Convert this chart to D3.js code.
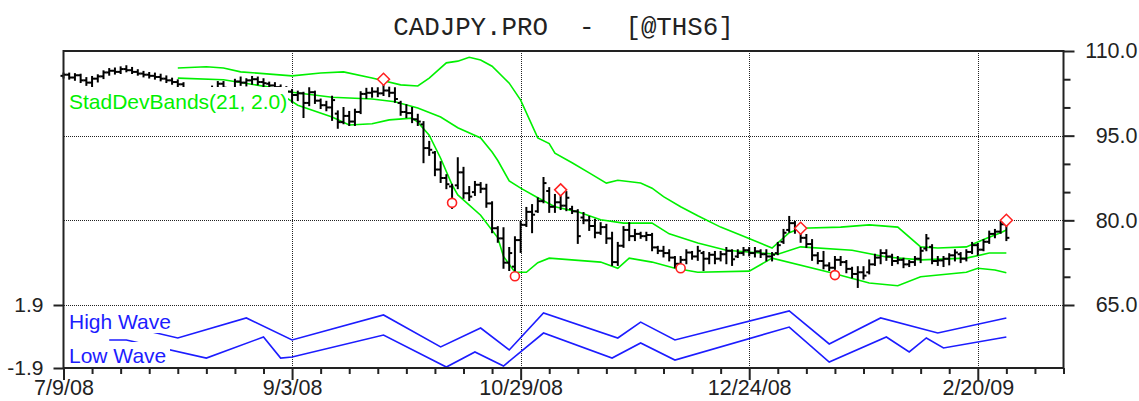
<!DOCTYPE html>
<html>
<head>
<meta charset="utf-8">
<script src="https://cdn.jsdelivr.net/npm/d3@7"></script>
<style>
  body { margin: 0; background: #fff; }
  svg { display: block; }
</style>
</head>
<body>
<svg id="chart"></svg>
<script>
// daily bars, index 0 = 7/9/08
const barOpen = [105.6,105.8,105.3,105.7,104.8,104.4,105.1,105.5,106.2,106.5,106.3,106.8,106.6,106.3,106.0,105.8,105.6,105.4,105.1,104.8,
  104.5,104.1,103.2,102.9,102.7,102.8,103.1,103.4,104.2,103.3,103.2,104.6,104.4,104.8,105.0,104.5,104.2,103.9,103.6,103.3,
  102.8,102.2,102.5,100.8,102.7,101.2,100.4,100.0,98.9,97.4,98.5,97.5,99.2,102.4,102.6,102.8,102.5,103.0,102.6,100.8,
  99.2,99.0,97.9,97.0,92.8,92.0,89.0,87.5,86.0,86.2,88.5,84.8,85.0,86.3,85.6,83.0,78.6,76.8,72.5,71.8,
  76.5,79.2,81.5,81.6,83.4,85.2,82.4,83.2,82.6,82.0,81.6,80.5,80.0,79.0,77.8,78.8,76.8,72.6,75.5,78.3,
  77.2,77.6,77.2,77.4,75.2,74.6,74.2,73.4,72.3,73.0,74.3,73.6,74.2,73.2,73.9,73.2,74.0,74.6,73.6,74.2,
  74.7,74.2,74.5,74.0,73.6,74.2,76.2,78.3,79.5,78.3,76.9,75.8,73.8,72.8,72.0,71.6,73.0,72.6,71.4,70.5,
  70.8,70.8,72.2,73.4,74.2,73.6,72.8,73.0,72.2,72.6,73.2,75.0,75.3,72.8,72.9,73.2,73.8,74.0,73.2,74.4,
  75.6,74.8,76.2,77.6,78.0,79.3];
const barHigh = [106.0,106.0,105.9,105.8,105.2,105.4,105.7,106.4,106.8,106.9,107.1,107.3,107.0,106.6,106.3,106.1,106.0,105.8,105.5,105.1,
  104.8,104.3,103.4,103.3,103.1,103.3,103.7,104.5,104.5,103.4,104.9,105.3,105.0,105.4,105.3,105.0,104.4,104.3,103.9,103.6,
  103.1,102.8,102.6,103.4,102.8,101.4,101.0,101.9,99.3,99.9,99.2,99.6,102.7,103.3,103.4,103.4,104.1,103.5,103.4,101.0,
  100.4,99.9,98.7,97.4,93.9,92.1,90.3,88.0,86.3,91.0,89.3,85.9,86.8,86.6,86.3,83.2,78.8,78.6,75.1,77.0,
  79.7,82.2,82.7,83.9,87.5,85.7,84.5,84.3,85.0,82.4,81.8,81.3,80.6,80.1,79.5,79.2,77.8,76.0,78.8,79.5,
  78.3,77.8,77.8,77.6,75.3,75.3,74.7,73.5,73.5,74.7,74.4,75.3,74.4,74.2,74.4,74.4,75.1,74.7,74.7,75.1,
  75.1,75.1,74.7,74.7,74.2,76.0,78.3,80.6,79.7,78.5,77.4,76.5,74.2,74.4,72.4,73.5,73.5,72.8,71.6,71.7,
  71.7,72.9,73.9,74.7,74.7,73.9,73.5,73.2,72.8,73.5,75.1,77.4,75.6,73.5,73.5,74.0,74.7,74.2,74.7,76.0,
  75.8,76.5,78.0,78.3,79.7,79.5];
const barLow = [105.3,105.1,104.9,104.5,104.0,103.8,104.6,105.2,105.8,106.0,106.1,106.4,106.1,105.8,105.5,105.3,105.1,104.8,104.5,104.2,
  103.8,103.2,102.5,102.3,102.2,102.4,102.7,103.0,103.2,102.6,102.9,104.0,103.9,104.2,104.1,103.8,103.5,103.2,102.9,102.4,
  101.0,101.3,98.3,100.4,100.8,99.9,99.5,97.8,96.4,97.2,96.9,96.9,99.0,101.7,101.9,102.0,102.2,102.0,101.0,98.7,
  98.3,97.4,96.9,90.3,91.6,88.0,86.8,85.7,82.2,85.7,84.0,83.6,84.5,85.0,82.4,77.9,76.2,71.6,71.2,70.8,
  74.4,79.0,77.9,81.5,83.2,81.5,81.5,82.0,81.8,81.3,76.0,79.5,78.3,77.0,77.6,76.0,72.1,72.1,75.3,76.5,
  76.5,76.9,76.5,74.7,74.2,73.6,72.9,71.7,71.4,72.4,73.2,73.0,71.2,72.4,72.4,72.9,72.4,72.1,73.5,73.9,
  73.8,73.6,73.5,72.9,72.9,74.0,76.0,78.0,77.8,76.2,75.3,73.0,72.4,71.5,71.2,71.4,72.1,70.8,69.9,68.2,
  69.7,70.6,72.1,72.4,73.0,72.1,72.4,71.7,71.9,72.1,72.6,74.7,72.4,72.1,71.9,72.2,72.9,72.6,72.9,74.2,
  73.9,74.7,76.0,77.0,77.8,76.5];
const barClose = [105.8,105.3,105.7,104.8,104.4,105.1,105.5,106.2,106.5,106.3,106.8,106.6,106.3,106.0,105.8,105.6,105.4,105.1,104.8,104.5,
  104.1,103.4,102.9,102.7,102.8,103.1,103.4,104.2,103.5,103.2,104.6,104.4,104.8,105.0,104.5,104.3,103.9,103.6,103.3,102.8,
  102.2,102.5,100.8,102.7,101.2,100.4,100.0,101.3,97.4,98.5,97.5,99.2,102.4,102.6,102.8,102.5,103.0,102.6,101.5,99.2,
  99.0,97.9,97.5,92.8,92.5,89.0,87.5,86.4,83.5,88.5,84.8,84.2,86.3,85.6,83.0,78.6,76.8,72.5,74.2,76.5,
  79.2,81.5,81.0,83.4,86.6,82.4,83.2,82.6,84.0,81.6,77.2,80.0,79.0,77.8,78.8,76.8,72.6,75.5,78.3,77.2,
  77.6,77.2,77.4,75.2,74.6,74.2,73.4,72.3,73.0,74.3,73.6,74.6,73.2,73.9,73.2,74.0,74.6,73.1,74.2,74.7,
  74.2,74.5,74.0,73.6,73.9,75.6,77.8,79.5,78.4,76.9,75.8,73.8,72.8,72.0,71.6,73.0,72.6,71.4,70.5,70.8,
  70.2,72.2,73.4,74.2,73.6,72.8,73.0,72.2,72.6,73.2,74.6,76.8,72.8,72.9,73.2,73.8,74.3,73.2,74.4,75.6,
  74.8,76.2,77.6,78.0,79.3,76.9];

// StadDevBands(21, 2.0): [bar, value]
const upperBand = [[20,107.0],[25,107.2],[28,107.0],[31,106.3],[40,105.6],[45,106.1],[49,106.3],[54,105.2],[59,104.0],[62,103.8],
  [64,105.2],[67,107.9],[69,108.2],[71,108.9],[73,108.4],[75,107.3],[78,104.3],[80,101.3],[83,94.6],[85,93.6],[86,91.9],
  [89,90.2],[92,88.4],[95,86.6],[97,87.1],[101,86.6],[103,85.7],[105,84.2],[108,82.4],[111,80.8],[115,78.8],[119,77.2],
  [124,75.1],[127,77.8],[129,78.6],[136,78.8],[141,79.2],[146,78.8],[150,75.3],[153,75.1],[158,75.3],[161,76.6],[164,77.8],[165,78.3]];
const middleBand = [[20,105.2],[28,104.9],[36,103.6],[40,102.7],[47,101.8],[54,101.5],[58,101.0],[62,99.9],[66,98.3],[69,96.4],
  [73,94.6],[75,92.1],[76,90.6],[78,87.0],[80,85.7],[83,84.0],[86,82.4],[90,81.5],[94,80.1],[98,79.5],[103,79.5],[106,77.6],
  [111,76.0],[116,74.7],[122,74.2],[125,74.0],[129,75.3],[138,74.7],[144,73.5],[150,73.0],[158,73.3],[162,74.2],[165,74.2]];
const lowerBand = [[20,103.4],[30,102.9],[39,101.7],[41,100.4],[47,98.3],[50,96.9],[54,97.1],[57,97.8],[61,98.1],[62,97.4],
  [64,95.1],[66,91.0],[68,86.3],[69,84.5],[73,80.9],[76,76.9],[77,73.6],[79,70.8],[81,70.8],[83,72.5],[85,73.3],[94,72.6],
  [97,71.5],[99,73.3],[103,72.6],[107,71.5],[111,70.8],[120,71.0],[124,73.3],[134,70.8],[141,68.9],[146,68.4],[150,70.0],
  [158,70.8],[160,71.5],[163,71.2],[165,70.7]];

// wave panel: [bar, value]
const highWave = [[11,0.63],[20,-0.09],[32,1.12],[40,-0.21],[56,1.30],[66,-0.63],[73,0.51],[78,-0.81],[84,1.42],[97,-0.09],
  [101,0.87],[107,-0.21],[127,1.54],[134,-0.45],[143,1.12],[153,0.21],[165,1.12]];
const lowWave = [[8,-0.21],[11,-0.21],[25,-1.30],[35,-0.03],[38,-1.30],[40,-1.24],[56,0.09],[67,-1.84],[72,-0.93],[77,-1.78],
  [84,0.21],[96,-1.30],[101,-0.39],[107,-1.42],[127,0.57],[134,-1.54],[144,-0.03],[148,-0.93],[151,-0.09],[154,-0.69],[165,-0.03]];

const peakBars = [56, 87, 129, 165];
const peakVals = [105.0, 85.4, 78.6, 80.0];
const troughBars = [68, 79, 108, 135];
const troughVals = [83.1, 70.1, 71.5, 70.3];

const tickBars = [0, 40, 80, 120, 160];
const tickLabels = ["7/9/08", "9/3/08", "10/29/08", "12/24/08", "2/20/09"];
const priceTicks = [65, 70, 75, 80, 85, 90, 95, 100, 105, 110];
const priceLabels = [65, 80, 95, 110];
const waveTicks = [-1.9, 1.9];

const W = 1139, H = 401;
const plot = {left: 63.5, right: 1063.5, top: 51, split: 305, bottom: 368};
const sans = "'Liberation Sans', Arial, sans-serif";

const svg = d3.select("#chart").attr("width", W).attr("height", H);
svg.append("rect").attr("width", W).attr("height", H).attr("fill", "#fff");

const x = d3.scaleLinear().domain([0, 175]).range([plot.left, plot.right]);
const y = d3.scaleLinear().domain([65, 110]).range([plot.split, plot.top]);
const yWave = d3.scaleLinear().domain([-1.9, 1.9]).range([plot.bottom, plot.split]);

// dotted grid
const grid = svg.append("g")
  .attr("stroke", "#222").attr("stroke-width", 1)
  .attr("stroke-dasharray", "1,1").attr("shape-rendering", "crispEdges");
grid.selectAll("line.gh").data([95, 80, 65]).join("line").attr("class", "gh")
  .attr("x1", plot.left).attr("x2", plot.right)
  .attr("y1", d => Math.round(y(d)) + 0.5).attr("y2", d => Math.round(y(d)) + 0.5);
grid.selectAll("line.gv").data(tickBars.slice(1)).join("line").attr("class", "gv")
  .attr("x1", d => Math.round(x(d)) + 0.5).attr("x2", d => Math.round(x(d)) + 0.5)
  .attr("y1", plot.top).attr("y2", plot.bottom);

// bands
const bandLine = d3.line().x(d => x(d[0])).y(d => y(d[1]));
svg.append("g").selectAll("path").data([upperBand, middleBand, lowerBand]).join("path")
  .attr("d", bandLine).attr("fill", "none").attr("stroke", "#00f000").attr("stroke-width", 1.6);

// waves
const waveLine = d3.line().x(d => x(d[0])).y(d => yWave(d[1]));
svg.append("g").selectAll("path").data([highWave, lowWave]).join("path")
  .attr("d", waveLine).attr("fill", "none").attr("stroke", "#1c1cff").attr("stroke-width", 1.6);

// OHLC bars
const bars = barClose.map((c, i) => ({i, o: barOpen[i], h: barHigh[i], l: barLow[i], c}));
const ohlc = svg.append("g").attr("stroke", "#000").attr("stroke-width", 2);
const bar = ohlc.selectAll("g").data(bars).join("g");
bar.append("line")
  .attr("x1", d => x(d.i)).attr("x2", d => x(d.i))
  .attr("y1", d => y(d.h) - 1).attr("y2", d => y(d.l) + 1);
bar.append("line")
  .attr("x1", d => x(d.i) - 3).attr("x2", d => x(d.i))
  .attr("y1", d => y(d.o)).attr("y2", d => y(d.o));
bar.append("line")
  .attr("x1", d => x(d.i)).attr("x2", d => x(d.i) + 3)
  .attr("y1", d => y(d.c)).attr("y2", d => y(d.c));

// swing markers
svg.append("g").selectAll("path").data(peakBars).join("path")
  .attr("d", (d, k) => {
    const cx = x(d), cy = y(peakVals[k]);
    return `M${cx},${cy - 6}L${cx + 6},${cy}L${cx},${cy + 6}L${cx - 6},${cy}Z`;
  })
  .attr("fill", "#fff").attr("stroke", "#ff2020").attr("stroke-width", 1.5);
svg.append("g").selectAll("circle").data(troughBars).join("circle")
  .attr("cx", d => x(d)).attr("cy", (d, k) => y(troughVals[k])).attr("r", 4.5)
  .attr("fill", "#fff").attr("stroke", "#ff2020").attr("stroke-width", 1.6);

// study labels (opaque boxes like the original)
const labels = [
  {text: "StadDevBands(21, 2.0)", color: "#00f000", box: [65, 87, 223, 26], base: 109},
  {text: "High Wave", color: "#1c1cff", box: [65, 311, 108, 22], base: 329},
  {text: "Low Wave", color: "#1c1cff", box: [65, 342, 105, 24], base: 363}
];
const lab = svg.append("g").selectAll("g").data(labels).join("g");
lab.append("rect")
  .attr("x", d => d.box[0]).attr("y", d => d.box[1])
  .attr("width", d => d.box[2]).attr("height", d => d.box[3]).attr("fill", "#fff");
lab.append("text")
  .attr("x", 69).attr("y", d => d.base)
  .attr("fill", d => d.color).attr("font-family", sans).attr("font-size", 21)
  .text(d => d.text);

// frame
svg.append("rect")
  .attr("x", plot.left).attr("y", plot.top)
  .attr("width", plot.right - plot.left).attr("height", plot.bottom - plot.top)
  .attr("fill", "none").attr("stroke", "#222").attr("stroke-width", 2);

// right price axis
const rAxis = svg.append("g").attr("transform", `translate(${plot.right},0)`)
  .call(d3.axisRight(y).tickValues(priceTicks).tickSizeOuter(0)
    .tickFormat(d => priceLabels.includes(d) ? d.toFixed(1) : ""));
rAxis.select(".domain").remove();
rAxis.selectAll(".tick line")
  .attr("x2", d => priceLabels.includes(d) ? 11 : 7)
  .attr("stroke", "#222").attr("stroke-width", 2);
rAxis.selectAll(".tick text")
  .attr("x", 74).attr("text-anchor", "end")
  .attr("font-family", sans).attr("font-size", 21.5).attr("fill", "#222");

// left wave axis
const lAxis = svg.append("g").attr("transform", `translate(${plot.left},0)`)
  .call(d3.axisLeft(yWave).tickValues(waveTicks).tickSizeOuter(0).tickSize(10).tickPadding(10)
    .tickFormat(d => d.toFixed(1)));
lAxis.select(".domain").remove();
lAxis.selectAll(".tick line").attr("stroke", "#222").attr("stroke-width", 2);
lAxis.selectAll(".tick text")
  .attr("font-family", sans).attr("font-size", 21).attr("fill", "#222");

// bottom date axis
const bAxis = svg.append("g").attr("transform", `translate(0,${plot.bottom})`)
  .call(d3.axisBottom(x).tickValues(d3.range(0, 176, 5)).tickSizeOuter(0)
    .tickFormat(d => {
      const k = tickBars.indexOf(d);
      return k >= 0 ? tickLabels[k] : "";
    }));
bAxis.select(".domain").remove();
bAxis.selectAll(".tick line")
  .attr("y2", d => tickBars.includes(d) ? 12 : 6)
  .attr("stroke", "#222").attr("stroke-width", 2);
bAxis.selectAll(".tick text")
  .attr("y", 27).attr("dy", 0)
  .attr("font-family", sans).attr("font-size", 21.5).attr("fill", "#222");

// title
svg.append("text")
  .attr("x", (plot.left + plot.right) / 2).attr("y", 35)
  .attr("text-anchor", "middle")
  .attr("font-family", "'Liberation Mono', 'Courier New', monospace")
  .attr("font-size", 25.8).attr("fill", "#222")
  .style("white-space", "pre")
  .text("CADJPY.PRO  -  [@THS6]");
</script>
</body>
</html>
